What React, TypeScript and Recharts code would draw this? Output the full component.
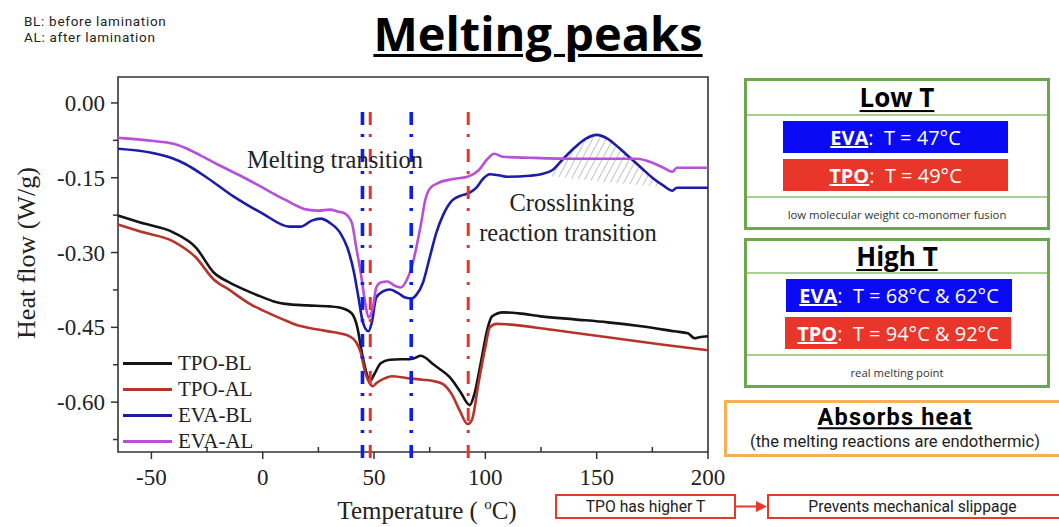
import React from 'react';
import { ComposedChart, Line, Area, XAxis, YAxis, ReferenceLine, ReferenceArea } from 'recharts';

// ---- data: [temperature °C, heat flow W/g] ----
const TPO_BL: [number, number][] = [
  [-65, -0.226], [-55, -0.24], [-40, -0.26], [-30, -0.29], [-22, -0.34], [-15, -0.36], [-8, -0.375],
  [-1, -0.388], [5, -0.398], [10, -0.403], [20, -0.406], [30, -0.408], [36, -0.412], [40, -0.422],
  [42.5, -0.45], [44.5, -0.5], [46.5, -0.54], [48.2, -0.558], [50, -0.545], [53, -0.522], [57, -0.515],
  [62, -0.514], [66, -0.514], [68, -0.512], [71, -0.507], [74, -0.514], [76, -0.522], [79, -0.532],
  [84, -0.55], [88.6, -0.578], [93, -0.606], [95, -0.585], [98, -0.52], [101, -0.452], [103, -0.428],
  [108, -0.42], [115, -0.422], [125, -0.428], [140, -0.434], [155, -0.44], [170, -0.448], [185, -0.458],
  [191, -0.462], [194, -0.472], [196, -0.47], [200, -0.468],
];
const TPO_AL: [number, number][] = [
  [-65, -0.244], [-55, -0.258], [-40, -0.278], [-30, -0.31], [-22, -0.354], [-15, -0.375], [-5, -0.405],
  [0, -0.416], [9, -0.434], [15, -0.445], [24, -0.454], [32, -0.46], [39, -0.468], [42, -0.48], [44, -0.5],
  [46, -0.54], [48, -0.562], [49.5, -0.568], [51, -0.562], [54, -0.554], [58, -0.548], [65, -0.552],
  [72, -0.555], [77, -0.558], [81, -0.564], [85, -0.585], [88.6, -0.618], [92, -0.644], [94, -0.635],
  [97, -0.56], [100, -0.49], [102, -0.45], [105, -0.443], [110, -0.444], [130, -0.455], [155, -0.47],
  [180, -0.485], [200, -0.496],
];
const EVA_BL: [number, number][] = [
  [-65, -0.092], [-50, -0.1], [-40, -0.112], [-35, -0.122], [-25, -0.15], [-13, -0.188], [0, -0.222],
  [12, -0.248], [17, -0.248], [22, -0.236], [26, -0.232], [30, -0.24], [35, -0.262], [38, -0.29],
  [41, -0.34], [43, -0.39], [45, -0.44], [47.5, -0.458], [49, -0.44], [51, -0.39], [54, -0.378],
  [57, -0.374], [61, -0.382], [64, -0.39], [67, -0.392], [69, -0.385], [72, -0.36], [75, -0.31],
  [78, -0.26], [81, -0.225], [85, -0.196], [89, -0.186], [93, -0.18], [96, -0.17], [99, -0.152],
  [102, -0.143], [106, -0.145], [110, -0.148], [120, -0.146], [125, -0.143], [130, -0.135], [135, -0.112],
  [140, -0.09], [145, -0.072], [150, -0.064], [155, -0.072], [160, -0.09], [165, -0.11], [170, -0.13],
  [175, -0.15], [180, -0.166], [184, -0.176], [186, -0.17], [200, -0.17],
];
const EVA_AL: [number, number][] = [
  [-65, -0.07], [-50, -0.076], [-40, -0.082], [-35, -0.09], [-28, -0.105], [-20, -0.124], [-10, -0.146],
  [0, -0.17], [10, -0.194], [20, -0.214], [25, -0.216], [30, -0.214], [34, -0.218], [37, -0.222],
  [40, -0.24], [42, -0.29], [44, -0.34], [46, -0.4], [47.5, -0.43], [49.5, -0.41], [51, -0.37],
  [53, -0.36], [56, -0.358], [59, -0.366], [62, -0.37], [65, -0.352], [67, -0.328], [69, -0.29],
  [71, -0.245], [73, -0.195], [75, -0.172], [79, -0.16], [85, -0.153], [92, -0.148], [97, -0.135],
  [101, -0.112], [104, -0.102], [108, -0.108], [120, -0.11], [140, -0.112], [160, -0.112], [168, -0.112],
  [175, -0.12], [180, -0.13], [184, -0.138], [186, -0.13], [200, -0.13],
];
// hatched crosslinking area: [t, lower, upper]
const HATCH: [number, number, number][] = [
  [128, -0.147, -0.139], [131, -0.148, -0.132], [135, -0.15, -0.112], [140, -0.152, -0.09],
  [145, -0.154, -0.072], [150, -0.157, -0.064], [155, -0.159, -0.072], [160, -0.161, -0.09],
  [165, -0.163, -0.11], [170, -0.165, -0.13], [175, -0.167, -0.15], [178, -0.168, -0.16],
];

const SERIES = [
  { name: 'TPO-BL', data: TPO_BL, color: '#141414' },
  { name: 'TPO-AL', data: TPO_AL, color: '#b5352c' },
  { name: 'EVA-BL', data: EVA_BL, color: '#1c1caa' },
  { name: 'EVA-AL', data: EVA_AL, color: '#b84fd8' },
];

const MARKERS = [
  { t: 44.8, color: '#0b1ef2' },
  { t: 48.3, color: '#ec3328' },
  { t: 66.7, color: '#0b1ef2' },
  { t: 92.3, color: '#ec3328' },
];

const X_TICKS = [-50, -25, 0, 25, 50, 75, 100, 125, 150, 175, 200];
const X_LABELED = [-50, 0, 50, 100, 150, 200];
const Y_TICKS = [0, -0.075, -0.15, -0.225, -0.3, -0.375, -0.45, -0.525, -0.6, -0.675];
const Y_LABELED = [0, -0.15, -0.3, -0.45, -0.6];
const X_DOMAIN: [number, number] = [-65, 200];
const Y_DOMAIN: [number, number] = [-0.7, 0.052];

const SERIF = '"Liberation Serif", "Times New Roman", serif';
const SANS = '"Open Sans", "Noto Sans", sans-serif';
const ROBOTO = 'Roboto, "Open Sans", sans-serif';

const isIn = (arr: number[], v: number) => arr.some((m) => Math.abs(m - v) < 1e-6);
const fmtY = (v: number) => (Math.abs(v) < 1e-9 ? '0.00' : v.toFixed(2));

const YTick = (props: any) => {
  const { x, y, payload } = props;
  const v = payload.value;
  const major = isIn(Y_LABELED, v);
  return (
    <g>
      <line x1={x - (major ? 7 : 5)} x2={x} y1={y} y2={y} stroke="#333" strokeWidth={1.5} />
      {major && (
        <text x={x - 13} y={y} dy={8} textAnchor="end" fontFamily={SERIF} fontSize={23} fill="#222">
          {fmtY(v)}
        </text>
      )}
    </g>
  );
};

const XTick = (props: any) => {
  const { x, y, payload } = props;
  const v = payload.value;
  const major = isIn(X_LABELED, v);
  return (
    <g>
      {major ? (
        <line x1={x} x2={x} y1={y} y2={y + 7} stroke="#333" strokeWidth={1.5} />
      ) : (
        <line x1={x} x2={x} y1={y} y2={y - 5} stroke="#333" strokeWidth={1.5} />
      )}
      {major && (
        <text x={x} y={y + 33} textAnchor="middle" fontFamily={SERIF} fontSize={23} fill="#222">
          {v}
        </text>
      )}
    </g>
  );
};

const abs = (l: number, t: number, extra: React.CSSProperties = {}): React.CSSProperties => ({
  position: 'absolute',
  left: l,
  top: t,
  ...extra,
});

const Bar = ({ l, t, w, h, bg, label, rest }: any) => (
  <div
    style={abs(l, t, {
      width: w,
      height: h,
      background: bg,
      color: '#fff',
      fontFamily: SANS,
      fontSize: 20,
      display: 'flex',
      alignItems: 'center',
      justifyContent: 'center',
      whiteSpace: 'pre',
    })}
  >
    <span style={{ fontWeight: 700, textDecoration: 'underline', textDecorationThickness: 2 }}>{label}</span>
    <span>{':  ' + rest}</span>
  </div>
);

// text centred on (cx, cy) with a tight line box
const Centered = ({ cx, cy, children, style }: any) => (
  <div
    style={{
      position: 'absolute',
      left: cx,
      top: cy,
      transform: 'translate(-50%, -50%)',
      whiteSpace: 'nowrap',
      lineHeight: 1.15,
      ...style,
    }}
  >
    {children}
  </div>
);

const Panel = ({ top, height, title, sep1, sep2, caption, captionY, titleY, bars }: any) => (
  <>
    <div
      style={abs(744, top, {
        width: 306,
        height,
        boxSizing: 'border-box',
        border: '3px solid #6aa84f',
      })}
    />
    <div style={abs(747, sep1, { width: 300, height: 2, background: '#a9d18e' })} />
    <div style={abs(747, sep2, { width: 300, height: 2, background: '#a9d18e' })} />
    <Centered cx={897} cy={titleY} style={{ fontFamily: SANS, fontWeight: 700, fontSize: 26, color: '#000' }}>
      <span style={{ textDecoration: 'underline', textDecorationThickness: 2, textUnderlineOffset: 3 }}>{title}</span>
    </Centered>
    {bars}
    <Centered cx={897} cy={captionY} style={{ fontFamily: SANS, fontSize: 11.3, color: '#333' }}>
      {caption}
    </Centered>
  </>
);

export default function App() {
  return (
    <div
      style={{
        position: 'absolute',
        left: 0,
        top: 0,
        width: 1059,
        height: 527,
        overflow: 'hidden',
        background: '#fff',
      }}
    >
      {/* top-left note */}
      <div
        style={abs(24, 13, {
          fontFamily: ROBOTO,
          fontSize: 13.5,
          letterSpacing: 0.7,
          lineHeight: '16px',
          color: '#222',
          whiteSpace: 'nowrap',
        })}
      >
        BL: before lamination
      </div>
      <div
        style={abs(24, 29, {
          fontFamily: ROBOTO,
          fontSize: 13.5,
          letterSpacing: 0.7,
          lineHeight: '16px',
          color: '#222',
          whiteSpace: 'nowrap',
        })}
      >
        AL: after lamination
      </div>
      {/* title */}
      <Centered cx={538} cy={33} style={{ fontFamily: SANS, fontWeight: 700, fontSize: 47, color: '#000' }}>
        <span style={{ textDecoration: 'underline', textDecorationThickness: 3, textUnderlineOffset: 3 }}>
          Melting peaks
        </span>
      </Centered>

      <div style={abs(0, 0)}>
        <ComposedChart width={740} height={527} margin={{ top: 77, right: 32, bottom: 35, left: 48 }}>
          <defs>
            <pattern id="hatch" width="6" height="6" patternUnits="userSpaceOnUse" patternTransform="rotate(28)">
              <line x1="0" y1="0" x2="0" y2="6" stroke="#7a7a7a" strokeWidth="0.9" />
            </pattern>
          </defs>
          <XAxis
            type="number"
            dataKey="t"
            domain={X_DOMAIN}
            ticks={X_TICKS}
            allowDataOverflow
            height={40}
            tickSize={0}
            tickMargin={0}
            tickLine={false}
            axisLine={false}
            interval={0}
            tick={<XTick />}
          />
          <YAxis
            type="number"
            dataKey="v"
            domain={Y_DOMAIN}
            ticks={Y_TICKS}
            allowDataOverflow
            width={70}
            tickSize={0}
            tickMargin={0}
            tickLine={false}
            axisLine={false}
            interval={0}
            tick={<YTick />}
          />
          <ReferenceArea
            x1={X_DOMAIN[0]}
            x2={X_DOMAIN[1]}
            y1={Y_DOMAIN[0]}
            y2={Y_DOMAIN[1]}
            fill="none"
            fillOpacity={0}
            stroke="#333"
            strokeWidth={1.6}
            ifOverflow="visible"
          />
          <Area
            data={HATCH.map(([t, lo, hi]) => ({ t, r: [lo, hi] }))}
            dataKey="r"
            type="monotone"
            fill="url(#hatch)"
            fillOpacity={1}
            stroke="none"
            isAnimationActive={false}
            activeDot={false}
            legendType="none"
          />
          {SERIES.map((s) => (
            <Line
              key={s.name}
              name={s.name}
              data={s.data.map(([t, v]) => ({ t, v }))}
              dataKey="v"
              type="monotone"
              stroke={s.color}
              strokeWidth={2.6}
              dot={false}
              activeDot={false}
              isAnimationActive={false}
            />
          ))}
          {MARKERS.map((m, i) => (
            <ReferenceLine
              key={i}
              segment={[
                { x: m.t, y: -0.018 },
                { x: m.t, y: -0.73 },
              ]}
              stroke={m.color}
              strokeWidth={m.color === '#0b1ef2' ? 3.6 : 3}
              strokeDasharray="13 9 3 12"
              ifOverflow="visible"
            />
          ))}
        </ComposedChart>
      </div>

      {/* legend */}
      {SERIES.map((s, i) => (
        <div key={s.name} style={abs(123, 350 + i * 26, { display: 'flex', alignItems: 'center', height: 26 })}>
          <div style={{ width: 49, height: 3, background: s.color }} />
          <span style={{ marginLeft: 6, fontFamily: SERIF, fontSize: 21, lineHeight: '24px', color: '#222' }}>{s.name}</span>
        </div>
      ))}

      {/* in-plot annotations */}
      <Centered cx={335} cy={160} style={{ fontFamily: SERIF, fontSize: 24.5, color: '#222' }}>
        Melting transition
      </Centered>
      <Centered cx={572} cy={203} style={{ fontFamily: SERIF, fontSize: 24.5, color: '#222' }}>
        Crosslinking
      </Centered>
      <Centered cx={568} cy={233} style={{ fontFamily: SERIF, fontSize: 24.5, color: '#222' }}>
        reaction transition
      </Centered>

      {/* axis titles */}
      <Centered cx={427} cy={511} style={{ fontFamily: SERIF, fontSize: 25, color: '#222' }}>
        <span>
          Temperature ( <sup style={{ fontSize: 15, lineHeight: 0 }}>o</sup>C)
        </span>
      </Centered>
      <Centered
        cx={27}
        cy={253}
        style={{
          transform: 'translate(-50%, -50%) rotate(-90deg)',
          fontFamily: SERIF,
          fontSize: 26,
          color: '#222',
        }}
      >
        Heat flow (W/g)
      </Centered>

      {/* right panels */}
      <Panel
        top={78}
        height={152}
        title="Low T"
        titleY={98}
        sep1={114}
        sep2={196}
        caption="low molecular weight co-monomer fusion"
        captionY={214}
        bars={
          <>
            <Bar l={783} t={121} w={225} h={32} bg="#0a0af5" label="EVA" rest="T = 47°C" />
            <Bar l={783} t={159} w={225} h={32} bg="#e8362a" label="TPO" rest="T = 49°C" />
          </>
        }
      />
      <Panel
        top={238}
        height={150}
        title="High T"
        titleY={257}
        sep1={272}
        sep2={354}
        caption="real melting point"
        captionY={372}
        bars={
          <>
            <Bar l={786} t={279} w={226} h={33} bg="#0a0af5" label="EVA" rest="T = 68°C & 62°C" />
            <Bar l={785} t={317} w={226} h={32} bg="#e8362a" label="TPO" rest="T = 94°C & 92°C" />
          </>
        }
      />

      {/* absorbs heat box */}
      <div
        style={abs(724, 400, {
          width: 345,
          height: 57,
          boxSizing: 'border-box',
          border: '3px solid #f5b056',
        })}
      />
      <Centered
        cx={895}
        cy={418}
        style={{
          fontFamily: ROBOTO,
          fontWeight: 700,
          fontSize: 23.5,
          letterSpacing: 1.2,
          lineHeight: 1,
          color: '#000',
        }}
      >
        <span style={{ textDecoration: 'underline', textDecorationThickness: 2, textUnderlineOffset: 2 }}>
          Absorbs heat
        </span>
      </Centered>
      <Centered cx={895} cy={442} style={{ fontFamily: ROBOTO, fontSize: 16.5, lineHeight: 1, color: '#222' }}>
        (the melting reactions are endothermic)
      </Centered>

      {/* bottom flow boxes */}
      <div
        style={abs(555, 494, {
          width: 181,
          height: 25,
          boxSizing: 'border-box',
          border: '2px solid #e5392e',
          display: 'flex',
          alignItems: 'center',
          justifyContent: 'center',
          fontFamily: ROBOTO,
          fontSize: 15.7,
          color: '#222',
        })}
      >
        TPO has higher T
      </div>
      <svg style={abs(736, 496)} width={32} height={22}>
        <line x1={0} y1={10.5} x2={22} y2={10.5} stroke="#e5392e" strokeWidth={2} />
        <polygon points="20,5 31,10.5 20,16" fill="#e5392e" />
      </svg>
      <div
        style={abs(767, 494, {
          width: 305,
          height: 25,
          boxSizing: 'border-box',
          border: '2px solid #e5392e',
          display: 'flex',
          alignItems: 'center',
          justifyContent: 'center',
          fontFamily: ROBOTO,
          fontSize: 15.7,
          color: '#222',
          paddingRight: 14,
        })}
      >
        Prevents mechanical slippage
      </div>
    </div>
  );
}
